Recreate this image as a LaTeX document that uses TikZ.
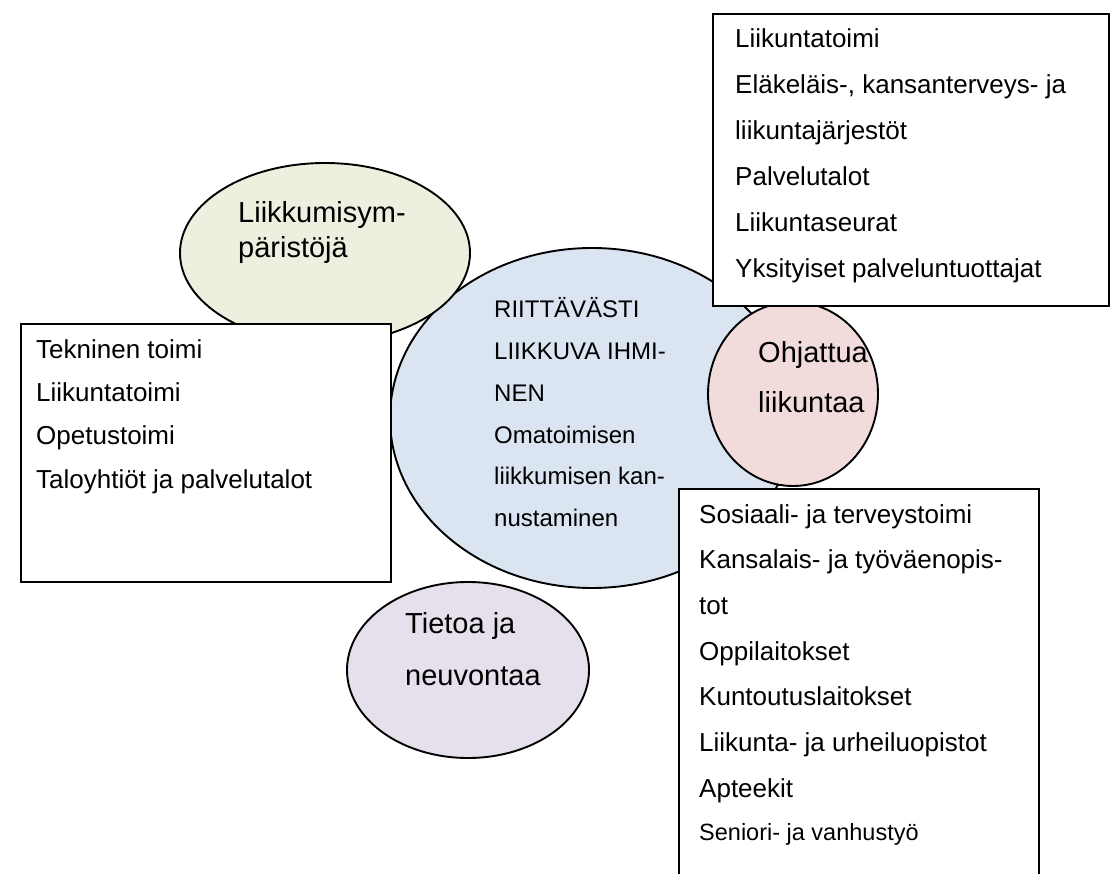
\documentclass[tikz,border=0pt]{standalone}
\usepackage{fontspec}
\setmainfont{Liberation Sans}
\usetikzlibrary{shapes.geometric}
\definecolor{cgreen}{HTML}{EBF1DE}
\definecolor{cblue}{HTML}{DBE5F1}
\definecolor{cpink}{HTML}{F2DCDB}
\definecolor{cpurple}{HTML}{E5E0EC}
\tikzset{
  blob/.style={ellipse, draw=black, line width=1.9pt, inner sep=0pt},
  box/.style={rectangle, draw=black, line width=1.9pt, fill=white, inner sep=0pt, anchor=north west},
  boxtxt/.style={anchor=base west, inner sep=0pt, font=\fontsize{26}{30}\selectfont},
  smalltxt/.style={anchor=base west, inner sep=0pt, font=\fontsize{23.5}{28}\selectfont},
  midtxt/.style={anchor=base west, inner sep=0pt, font=\fontsize{24}{28}\selectfont},
  bigtxt/.style={anchor=base west, inner sep=0pt, font=\fontsize{29}{34}\selectfont}
}
\begin{document}
\begin{tikzpicture}[x=1pt,y=-1pt]
\useasboundingbox (0,0) rectangle (1110,874);
\clip (0,0) rectangle (1110,874);
% ellipses
\node[blob, fill=cblue, minimum width=404pt, minimum height=340pt] (main) at (592,418) {};
\node[blob, fill=cgreen, minimum width=290pt, minimum height=180pt] (env) at (325,253) {};
\node[blob, fill=cpink, minimum width=170pt, minimum height=184pt] (guided) at (793,394) {};
\node[blob, fill=cpurple, minimum width=242pt, minimum height=176pt] (info) at (468,670) {};
% ellipse texts
\node[bigtxt] (env1) at (238,223) {Liikkumisym-};
\node[bigtxt] (env2) at (238,258) {päristöjä};
\node[bigtxt] (gu1) at (758,362) {Ohjattua};
\node[bigtxt] (gu2) at (758,412) {liikuntaa};
\node[bigtxt] (in1) at (405,633) {Tietoa ja};
\node[bigtxt] (in2) at (405,685) {neuvontaa};
% center texts
\foreach \t [count=\i] in {RIITTÄVÄSTI, LIIKKUVA IHMI-, NEN, Omatoimisen, liikkumisen kan-, nustaminen}
  \node[midtxt] (m\i) at (494,{318+41.7*(\i-1)}) {\t};
% boxes
\node[box, minimum width=396pt, minimum height=292pt] (trbox) at (712,13) {};
\node[box, minimum width=370pt, minimum height=258pt] (lbox) at (20,323) {};
\node[box, minimum width=360pt, minimum height=420pt] (brbox) at (678,488) {};
% box texts
\foreach \t [count=\i] in {Liikuntatoimi, {Eläkeläis-, kansanterveys- ja}, liikuntajärjestöt, Palvelutalot, Liikuntaseurat, Yksityiset palveluntuottajat}
  \node[boxtxt] (tr\i) at (735,{48+46*(\i-1)}) {\t};
\foreach \t [count=\i] in {Tekninen toimi, Liikuntatoimi, Opetustoimi, Taloyhtiöt ja palvelutalot}
  \node[boxtxt] (l\i) at (36,{358+43.4*(\i-1)}) {\t};
\foreach \t [count=\i] in {Sosiaali- ja terveystoimi, Kansalais- ja työväenopis-, tot, Oppilaitokset, Kuntoutuslaitokset, Liikunta- ja urheiluopistot, Apteekit}
  \node[boxtxt] (br\i) at (699,{523+45.7*(\i-1)}) {\t};
\node[smalltxt] (br8) at (699,840) {Seniori- ja vanhustyö};
\end{tikzpicture}
\end{document}
